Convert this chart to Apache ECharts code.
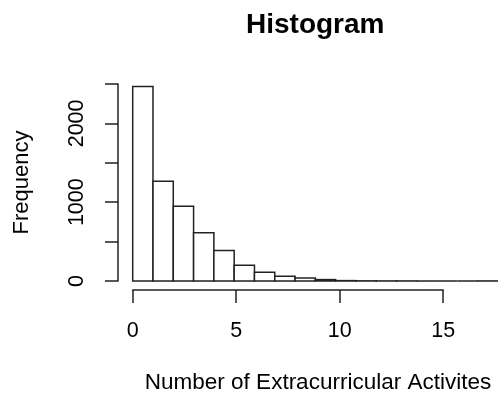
<!DOCTYPE html>
<html lang="en">
<head>
    <meta charset="utf-8"/>
    <script src="https://cdn.jsdelivr.net/npm/echarts@6/dist/echarts.min.js"></script>
    <style>
        html, body { margin: 0; padding: 0; background: #fff; }
        #main { width: 498px; height: 394px; }
    </style>
</head>
<body>
<div id="main"></div>
<script>
    // histogram bins (width 1) and counts
    var binStart = [0, 1, 2, 3, 4, 5, 6, 7, 8, 9, 10, 11, 12, 13, 14, 15, 16, 17];
    var binEnd = [1, 2, 3, 4, 5, 6, 7, 8, 9, 10, 11, 12, 13, 14, 15, 16, 17, 18];
    var counts = [2468, 1266, 949, 611, 388, 199, 110, 60, 38, 18, 5, 2, 1, 1, 0, 0, 0, 1];
    var xTicks = [0, 5, 10, 15];
    var yTicks = [0, 500, 1000, 1500, 2000, 2500];

    var font = '"Liberation Sans", Arial, sans-serif';
    var lineColor = '#222';

    var data = [];
    for (var i = 0; i < counts.length; i++) {
        data.push([binStart[i], binEnd[i], counts[i]]);
    }

    var chart = echarts.init(document.getElementById('main'));
    var option = {
        animation: false,
        title: {
            text: 'Histogram',
            left: 246,
            top: 11,
            padding: 0,
            textStyle: {fontFamily: font, fontSize: 28, fontWeight: 'bold', color: '#000'}
        },
        graphic: [{
            type: 'text',
            x: 318,
            y: 383,
            style: {
                text: 'Number of Extracurricular Activites',
                font: '22.5px ' + font,
                fill: '#000',
                textAlign: 'center',
                textVerticalAlign: 'middle'
            }
        }],
        grid: [
            {left: 132.7, top: 84, width: 372.6, height: 197},
            {left: 132.7, top: 84, width: 310.5, height: 197}
        ],
        xAxis: [
            {type: 'value', gridIndex: 0, min: 0, max: 18, show: false},
            {
                type: 'value', gridIndex: 1, min: xTicks[0], max: xTicks[xTicks.length - 1],
                interval: 5, position: 'bottom', offset: 9,
                axisLine: {show: true, onZero: false, lineStyle: {color: lineColor, width: 1.5}},
                axisTick: {show: true, length: 13, lineStyle: {color: lineColor, width: 1.5}},
                axisLabel: {margin: 30, fontFamily: font, fontSize: 21.5, color: '#000'},
                splitLine: {show: false}
            }
        ],
        yAxis: [
            {
                type: 'value', gridIndex: 0, min: yTicks[0], max: yTicks[yTicks.length - 1],
                interval: 500, position: 'left', offset: 14.7,
                name: 'Frequency', nameLocation: 'middle', nameGap: 85, nameRotate: 90,
                nameTextStyle: {fontFamily: font, fontSize: 22, color: '#000'},
                axisLine: {show: true, onZero: false, lineStyle: {color: lineColor, width: 1.5}},
                axisTick: {show: true, length: 13, lineStyle: {color: lineColor, width: 1.5}},
                axisLabel: {
                    rotate: 90, margin: 30, fontFamily: font, fontSize: 21.5, color: '#000',
                    formatter: function (v) { return v % 1000 === 0 ? String(v) : ''; }
                },
                splitLine: {show: false}
            },
            {type: 'value', gridIndex: 1, min: 0, max: 2500, show: false}
        ],
        series: [{
            type: 'custom',
            xAxisIndex: 0,
            yAxisIndex: 0,
            clip: false,
            data: data,
            renderItem: function (params, api) {
                var p0 = api.coord([api.value(0), api.value(2)]);
                var p1 = api.coord([api.value(1), 0]);
                return {
                    type: 'rect',
                    shape: {x: p0[0], y: p0[1], width: p1[0] - p0[0], height: p1[1] - p0[1]},
                    style: {fill: '#fff', stroke: lineColor, lineWidth: 1.5}
                };
            }
        }]
    };
    chart.setOption(option);
</script>
</body>
</html>
